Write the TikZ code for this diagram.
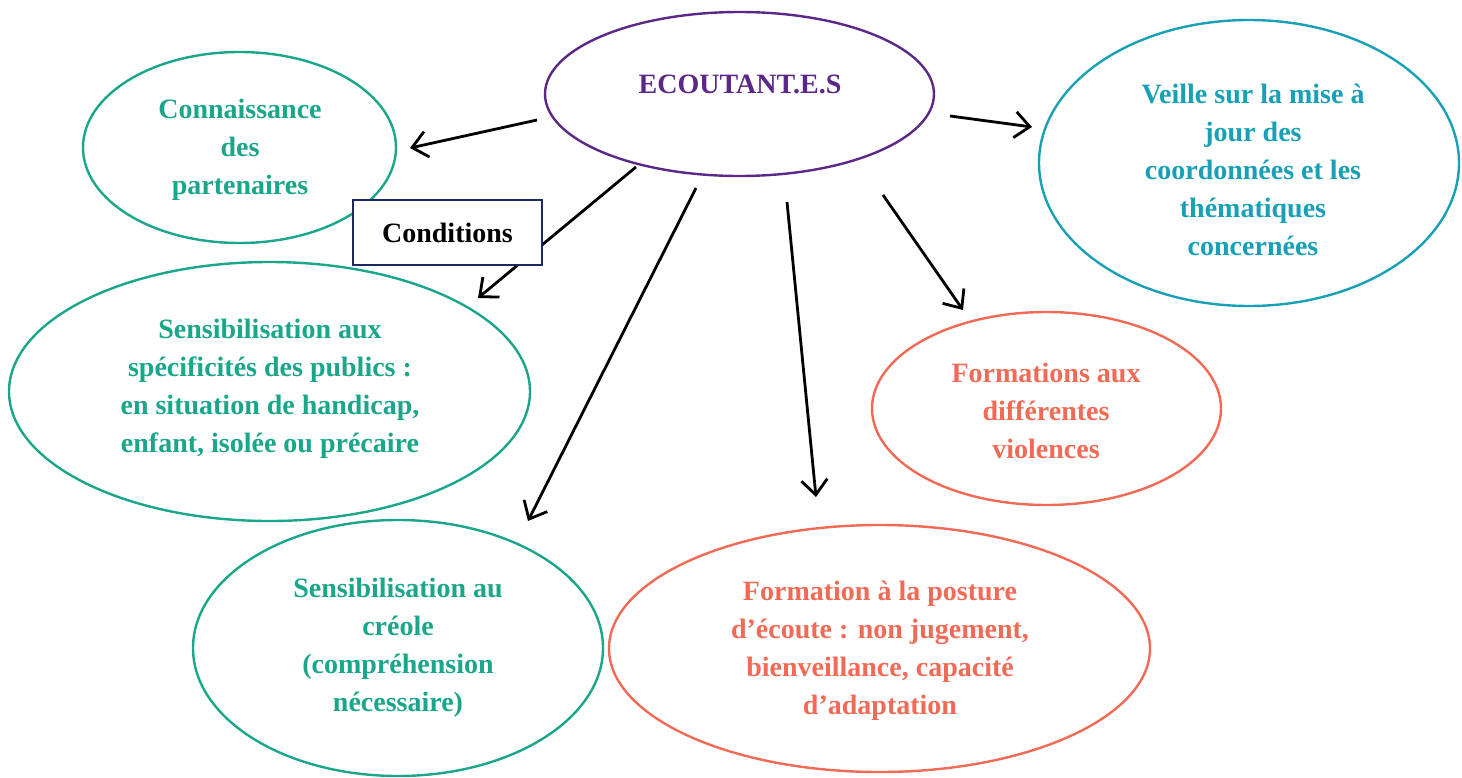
\documentclass[tikz,border=0pt]{standalone}
\usepackage{fontspec}
\setmainfont{Liberation Serif}
\usetikzlibrary{shapes.geometric}
\usetikzlibrary{arrows.meta}

\definecolor{ecopurple}{RGB}{91,40,135}
\definecolor{ecogreen}{RGB}{26,166,138}
\definecolor{ecoteal}{RGB}{24,160,182}
\definecolor{ecocoral}{RGB}{240,106,85}
\definecolor{ecnavy}{RGB}{28,40,95}

\begin{document}
\begin{tikzpicture}[
    x=0.5pt, y=-0.5pt,
    bubble/.style={ellipse, draw, line width=1.2pt, inner sep=0pt},
    bubbletext/.style={font=\bfseries\fontsize{14}{19}\selectfont, align=center},
    arrowline/.style={-{Straight Barb[length=7.5pt,width=13pt]}, line width=1.4pt},
    condbox/.style={draw=ecnavy, fill=white, line width=1.2pt, font=\bfseries\fontsize{14}{19}\selectfont}
    ]
    \useasboundingbox (0,0) rectangle (1462,777);

    %Ellipses
    \node[bubble, ecopurple, minimum width=194.5pt, minimum height=82pt] (E) at (739.5,94) {};
    \node[bubble, ecogreen, minimum width=156.5pt, minimum height=95.5pt] (P) at (239.5,147.5) {};
    \node[bubble, ecoteal, minimum width=210pt, minimum height=143pt] (V) at (1249,163) {};
    \node[bubble, ecogreen, minimum width=260.5pt, minimum height=129.5pt] (S) at (269.5,391.5) {};
    \node[bubble, ecocoral, minimum width=174.5pt, minimum height=96.5pt] (F) at (1046.5,408.5) {};
    \node[bubble, ecogreen, minimum width=205pt, minimum height=128pt] (C) at (398,648) {};
    \node[bubble, ecocoral, minimum width=270.5pt, minimum height=123.5pt] (A) at (879.5,648.5) {};

    %Texts
    \node[bubbletext, text=ecopurple] (ET) at (740,84) {ECOUTANT.E.S};
    \node[bubbletext, text=ecogreen] (PT) at (240,150) {Connaissance\\des\\partenaires};
    \node[bubbletext, text=ecoteal] (VT) at (1253,170) {Veille sur la mise à\\jour des\\coordonnées et les\\thématiques\\concernées};
    \node[bubbletext, text=ecogreen] (ST) at (270,389) {Sensibilisation aux\\spécificités des publics :\\en situation de handicap,\\enfant, isolée ou précaire};
    \node[bubbletext, text=ecocoral] (FT) at (1046,411) {Formations aux\\différentes\\violences};
    \node[bubbletext, text=ecogreen] (CT) at (398,648) {Sensibilisation au\\créole\\(compréhension\\nécessaire)};
    \node[bubbletext, text=ecocoral] (AT) at (880,651) {Formation à la posture\\d’écoute : non jugement,\\bienveillance, capacité\\d’adaptation};

    %Arrows
    \coordinate (1s) at (537,120);  \coordinate (1e) at (410,148);
    \coordinate (2s) at (636,167);  \coordinate (2e) at (478,298);
    \coordinate (3s) at (696,188);  \coordinate (3e) at (528,521);
    \coordinate (4s) at (787,202);  \coordinate (4e) at (816,497);
    \coordinate (5s) at (883,195);  \coordinate (5e) at (963,310);
    \coordinate (6s) at (950,116);  \coordinate (6e) at (1032,127);

    \draw[arrowline] (1s) -- (1e);
    \draw[arrowline] (2s) -- (2e);
    \draw[arrowline] (3s) -- (3e);
    \draw[arrowline] (4s) -- (4e);
    \draw[arrowline] (5s) -- (5e);
    \draw[arrowline] (6s) -- (6e);

    %Box
    \node[condbox, minimum width=94.5pt, minimum height=32.5pt] (K) at (447.5,232.5) {Conditions};

\end{tikzpicture}
\end{document}
